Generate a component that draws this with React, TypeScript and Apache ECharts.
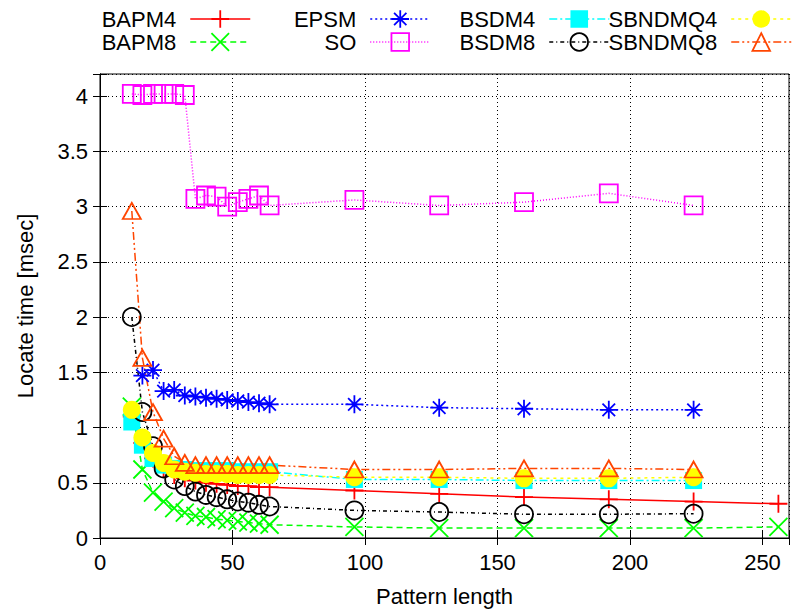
import React, { useEffect, useRef } from 'react';
import * as echarts from 'echarts';

// Pattern lengths
const xShort = [12, 16, 20, 24, 28, 32, 36, 40, 44, 48, 52, 56, 60, 64];
const xEpsmShort = [16, 20, 24, 28, 32, 36, 40, 44, 48, 52, 56, 60, 64];
const xLong = [96, 128, 160, 192, 224];
const xLongest = [96, 128, 160, 192, 224, 256];

// Locate times [msec]
const bapm4 = [1.1, 0.86, 0.72, 0.63, 0.57, 0.54, 0.52, 0.5, 0.49, 0.48, 0.47, 0.47, 0.46, 0.46, 0.43, 0.4, 0.37, 0.35, 0.33, 0.31];
const bapm8 = [1.19, 0.62, 0.41, 0.33, 0.27, 0.23, 0.2, 0.19, 0.17, 0.16, 0.15, 0.14, 0.13, 0.12, 0.1, 0.09, 0.09, 0.09, 0.09, 0.1];
const epsm = [1.47, 1.52, 1.33, 1.34, 1.29, 1.28, 1.27, 1.26, 1.25, 1.24, 1.23, 1.22, 1.21, 1.21, 1.18, 1.17, 1.16, 1.16];
const so = [4.02, 4.01, 4.02, 4.02, 4.02, 4.01, 3.07, 3.1, 3.09, 3.0, 3.04, 3.07, 3.1, 3.01, 3.06, 3.01, 3.04, 3.12, 3.01];
const bsdm4 = [1.05, 0.84, 0.72, 0.66, 0.63, 0.62, 0.61, 0.61, 0.61, 0.61, 0.6, 0.6, 0.6, 0.6, 0.53, 0.53, 0.52, 0.52, 0.52];
const bsdm8 = [2.0, 1.14, 0.83, 0.63, 0.53, 0.47, 0.42, 0.39, 0.37, 0.35, 0.33, 0.32, 0.3, 0.285, 0.25, 0.235, 0.215, 0.215, 0.22];
const sbndmq4 = [1.16, 0.91, 0.77, 0.68, 0.62, 0.6, 0.59, 0.58, 0.58, 0.58, 0.57, 0.57, 0.57, 0.57, 0.55, 0.55, 0.54, 0.54, 0.55];
const sbndmq8 = [2.96, 1.63, 1.14, 0.9, 0.74, 0.68, 0.66, 0.66, 0.66, 0.66, 0.66, 0.66, 0.66, 0.66, 0.62, 0.62, 0.63, 0.63, 0.62];

const xTicks = [0, 50, 100, 150, 200, 250];

const FONT = 'Liberation Sans';
const FS = 22;

const PLUS = 'path://M0,5L10,5M5,0L5,10';
const CROSS = 'path://M0,0L10,10M10,0L0,10';
const STAR = 'path://M0,5L10,5M5,0L5,10M1.5,1.5L8.5,8.5M8.5,1.5L1.5,8.5';

const zip = (xs: number[], ys: number[]) => xs.map((x, i) => [x, ys[i]]);

type Spec = {
  name: string;
  xs: number[];
  ys: number[];
  color: string;
  dash: any;
  symbol: string;
  size: any;
  filled: boolean;
};

const specs: Spec[] = [
  { name: 'BAPM4', xs: xShort.concat(xLongest), ys: bapm4, color: '#ff0000', dash: 'solid', symbol: PLUS, size: 18, filled: false },
  { name: 'BAPM8', xs: xShort.concat(xLongest), ys: bapm8, color: '#00ff00', dash: [6, 4], symbol: CROSS, size: 18, filled: false },
  { name: 'EPSM', xs: xEpsmShort.concat(xLong), ys: epsm, color: '#0000ff', dash: [2, 3], symbol: STAR, size: 18, filled: false },
  { name: 'SO', xs: xShort.concat(xLong), ys: so, color: '#ff00ff', dash: [1, 2], symbol: 'rect', size: 18, filled: false },
  { name: 'BSDM4', xs: xShort.concat(xLong), ys: bsdm4, color: '#00ffff', dash: [8, 3, 2, 3], symbol: 'rect', size: 17, filled: true },
  { name: 'BSDM8', xs: xShort.concat(xLong), ys: bsdm8, color: '#000000', dash: [4, 3, 1, 3], symbol: 'circle', size: 18, filled: false },
  { name: 'SBNDMQ4', xs: xShort.concat(xLong), ys: sbndmq4, color: '#ffff00', dash: [3, 4], symbol: 'circle', size: 18, filled: true },
  { name: 'SBNDMQ8', xs: xShort.concat(xLong), ys: sbndmq8, color: '#ff4500', dash: [8, 3, 2, 3, 2, 3], symbol: 'triangle', size: [18, 16], filled: false },
];

// legend placement: [right offset of icon, top]
const legendPos: [number, number][] = [
  [541, 8], [541, 31],
  [361, 8], [361, 31],
  [182, 8], [182, 31],
  [0, 8], [0, 31],
];

export default function App() {
  const ref = useRef<HTMLDivElement>(null);
  useEffect(() => {
    if (!ref.current) return;
    const chart = echarts.init(ref.current, null, { renderer: 'svg' });

    const series = specs.map((s) => ({
      type: 'line',
      name: s.name,
      data: zip(s.xs, s.ys),
      symbol: s.symbol,
      symbolSize: s.size,
      showAllSymbol: true,
      lineStyle: { color: s.color, width: 1.5, type: s.dash },
      itemStyle: s.filled
        ? { color: s.color, borderWidth: 0 }
        : { color: 'rgba(0,0,0,0)', borderColor: s.color, borderWidth: 1.8 },
      emphasis: { disabled: true },
    }));

    const legends = specs.map((s, i) => ({
      show: true,
      data: [s.name],
      right: legendPos[i][0],
      top: legendPos[i][1],
      padding: 0,
      align: 'right',
      itemWidth: 60,
      itemHeight: 22,
      selectedMode: false,
      lineStyle: { width: 1.5 },
      itemStyle: s.filled ? {} : { borderWidth: 1.8 },
      textStyle: { fontFamily: FONT, fontSize: FS, color: '#000', padding: [0, 9, 0, 0] },
    }));

    const gridLine = { show: true, lineStyle: { color: '#000', type: [1, 3], width: 1 } };

    chart.setOption({
      animation: false,
      backgroundColor: '#fff',
      textStyle: { fontFamily: FONT },
      grid: { left: 100, right: 3, top: 74, bottom: 68, show: true, borderColor: '#000', borderWidth: 1 },
      legend: legends,
      xAxis: [
        {
          type: 'value',
          min: 0,
          max: 260,
          interval: 50,
          name: 'Pattern length',
          nameLocation: 'middle',
          nameGap: 47,
          nameTextStyle: { fontFamily: FONT, fontSize: FS, color: '#000' },
          axisLine: { show: true, lineStyle: { color: '#000', width: 1 } },
          axisTick: { show: true, inside: true, length: 7, lineStyle: { color: '#000' } },
          axisLabel: {
            margin: 13,
            fontFamily: FONT,
            fontSize: FS,
            color: '#000',
            formatter: (v: number) => (xTicks.includes(v) ? String(v) : ''),
          },
          splitLine: gridLine,
        },
        {
          type: 'value',
          position: 'top',
          min: 0,
          max: 260,
          interval: 50,
          axisLine: { show: true, lineStyle: { color: '#000', width: 1 } },
          axisTick: { show: true, inside: true, length: 7, lineStyle: { color: '#000' } },
          axisLabel: { show: false },
          splitLine: { show: false },
        },
      ],
      yAxis: [
        {
          type: 'value',
          min: 0,
          max: 4.2,
          interval: 0.5,
          name: 'Locate time [msec]',
          nameLocation: 'middle',
          nameGap: 64,
          nameRotate: 90,
          nameTextStyle: { fontFamily: FONT, fontSize: FS, color: '#000' },
          axisLine: { show: true, lineStyle: { color: '#000', width: 1 } },
          axisTick: { show: true, inside: true, length: 7, lineStyle: { color: '#000' } },
          axisLabel: {
            margin: 12,
            fontFamily: FONT,
            fontSize: FS,
            color: '#000',
            formatter: (v: number) => (Math.abs(v * 2 - Math.round(v * 2)) < 1e-6 ? String(v) : ''),
          },
          splitLine: gridLine,
        },
        {
          type: 'value',
          position: 'right',
          min: 0,
          max: 4.2,
          interval: 0.5,
          axisLine: { show: true, lineStyle: { color: '#000', width: 1 } },
          axisTick: { show: true, inside: true, length: 7, lineStyle: { color: '#000' } },
          axisLabel: { show: false },
          splitLine: { show: false },
        },
      ],
      series,
    });
    return () => chart.dispose();
  }, []);
  return <div ref={ref} style={{ width: 792, height: 612, position: 'absolute', left: 0, top: 0 }} />;
}
